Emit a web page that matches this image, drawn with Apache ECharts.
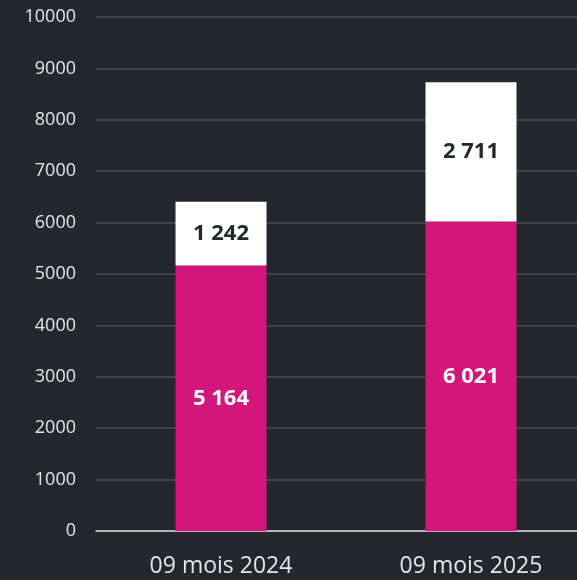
<!DOCTYPE html>
<html>
<head>
<meta charset="utf-8">
<script src="https://cdn.jsdelivr.net/npm/echarts@6/dist/echarts.min.js"></script>
<style>
  html, body { margin: 0; padding: 0; background: #25272f; overflow: hidden; }
  #main { width: 596px; height: 580px; }
</style>
</head>
<body>
<div id="main"></div>
<script>
const categories = ["09 mois 2024", "09 mois 2025"];
const baseValues = [5164, 6021];
const topValues = [1242, 2711];
const yTicks = { min: 0, max: 10000, interval: 1000 };

const chart = echarts.init(document.getElementById("main"));

// French-style grouping like "5 164"
const fmt = (v) => String(v).replace(/\B(?=(\d{3})+(?!\d))/g, " ");

const option = {
  backgroundColor: "#25272f",
  animation: false,
  textStyle: { fontFamily: "Open Sans" },
  // chart is a bit wider than the window so the plot runs off the right edge
  grid: { left: 96, right: 0, top: 17, bottom: 49 },
  xAxis: {
    type: "category",
    data: categories,
    axisLine: { lineStyle: { color: "#d9d9d9", width: 1.5 } },
    axisTick: { show: false },
    axisLabel: { color: "#e6e6e6", fontSize: 23, margin: 24, fontFamily: "Open Sans" },
  },
  yAxis: {
    type: "value",
    min: yTicks.min,
    max: yTicks.max,
    interval: yTicks.interval,
    axisLine: { show: false },
    axisTick: { show: false },
    axisLabel: {
      color: "#e6e6e6",
      fontSize: 18,
      margin: 20,
      fontFamily: "Open Sans",
      formatter: (v) => String(v),
    },
    splitLine: { lineStyle: { color: "#4b4d55", width: 1.5 } },
  },
  series: [
    {
      type: "bar",
      stack: "total",
      data: baseValues,
      barWidth: 91,
      itemStyle: { color: "#d4157c" },
      label: {
        show: true,
        position: "inside",
        color: "#ffffff",
        fontSize: 22,
        fontWeight: "bold",
        formatter: (p) => fmt(p.value),
      },
    },
    {
      type: "bar",
      stack: "total",
      data: topValues,
      barWidth: 91,
      itemStyle: { color: "#ffffff" },
      label: {
        show: true,
        position: "inside",
        color: "#25272f",
        fontSize: 22,
        fontWeight: "bold",
        formatter: (p) => fmt(p.value),
      },
    },
  ],
};

chart.setOption(option);
</script>
</body>
</html>
